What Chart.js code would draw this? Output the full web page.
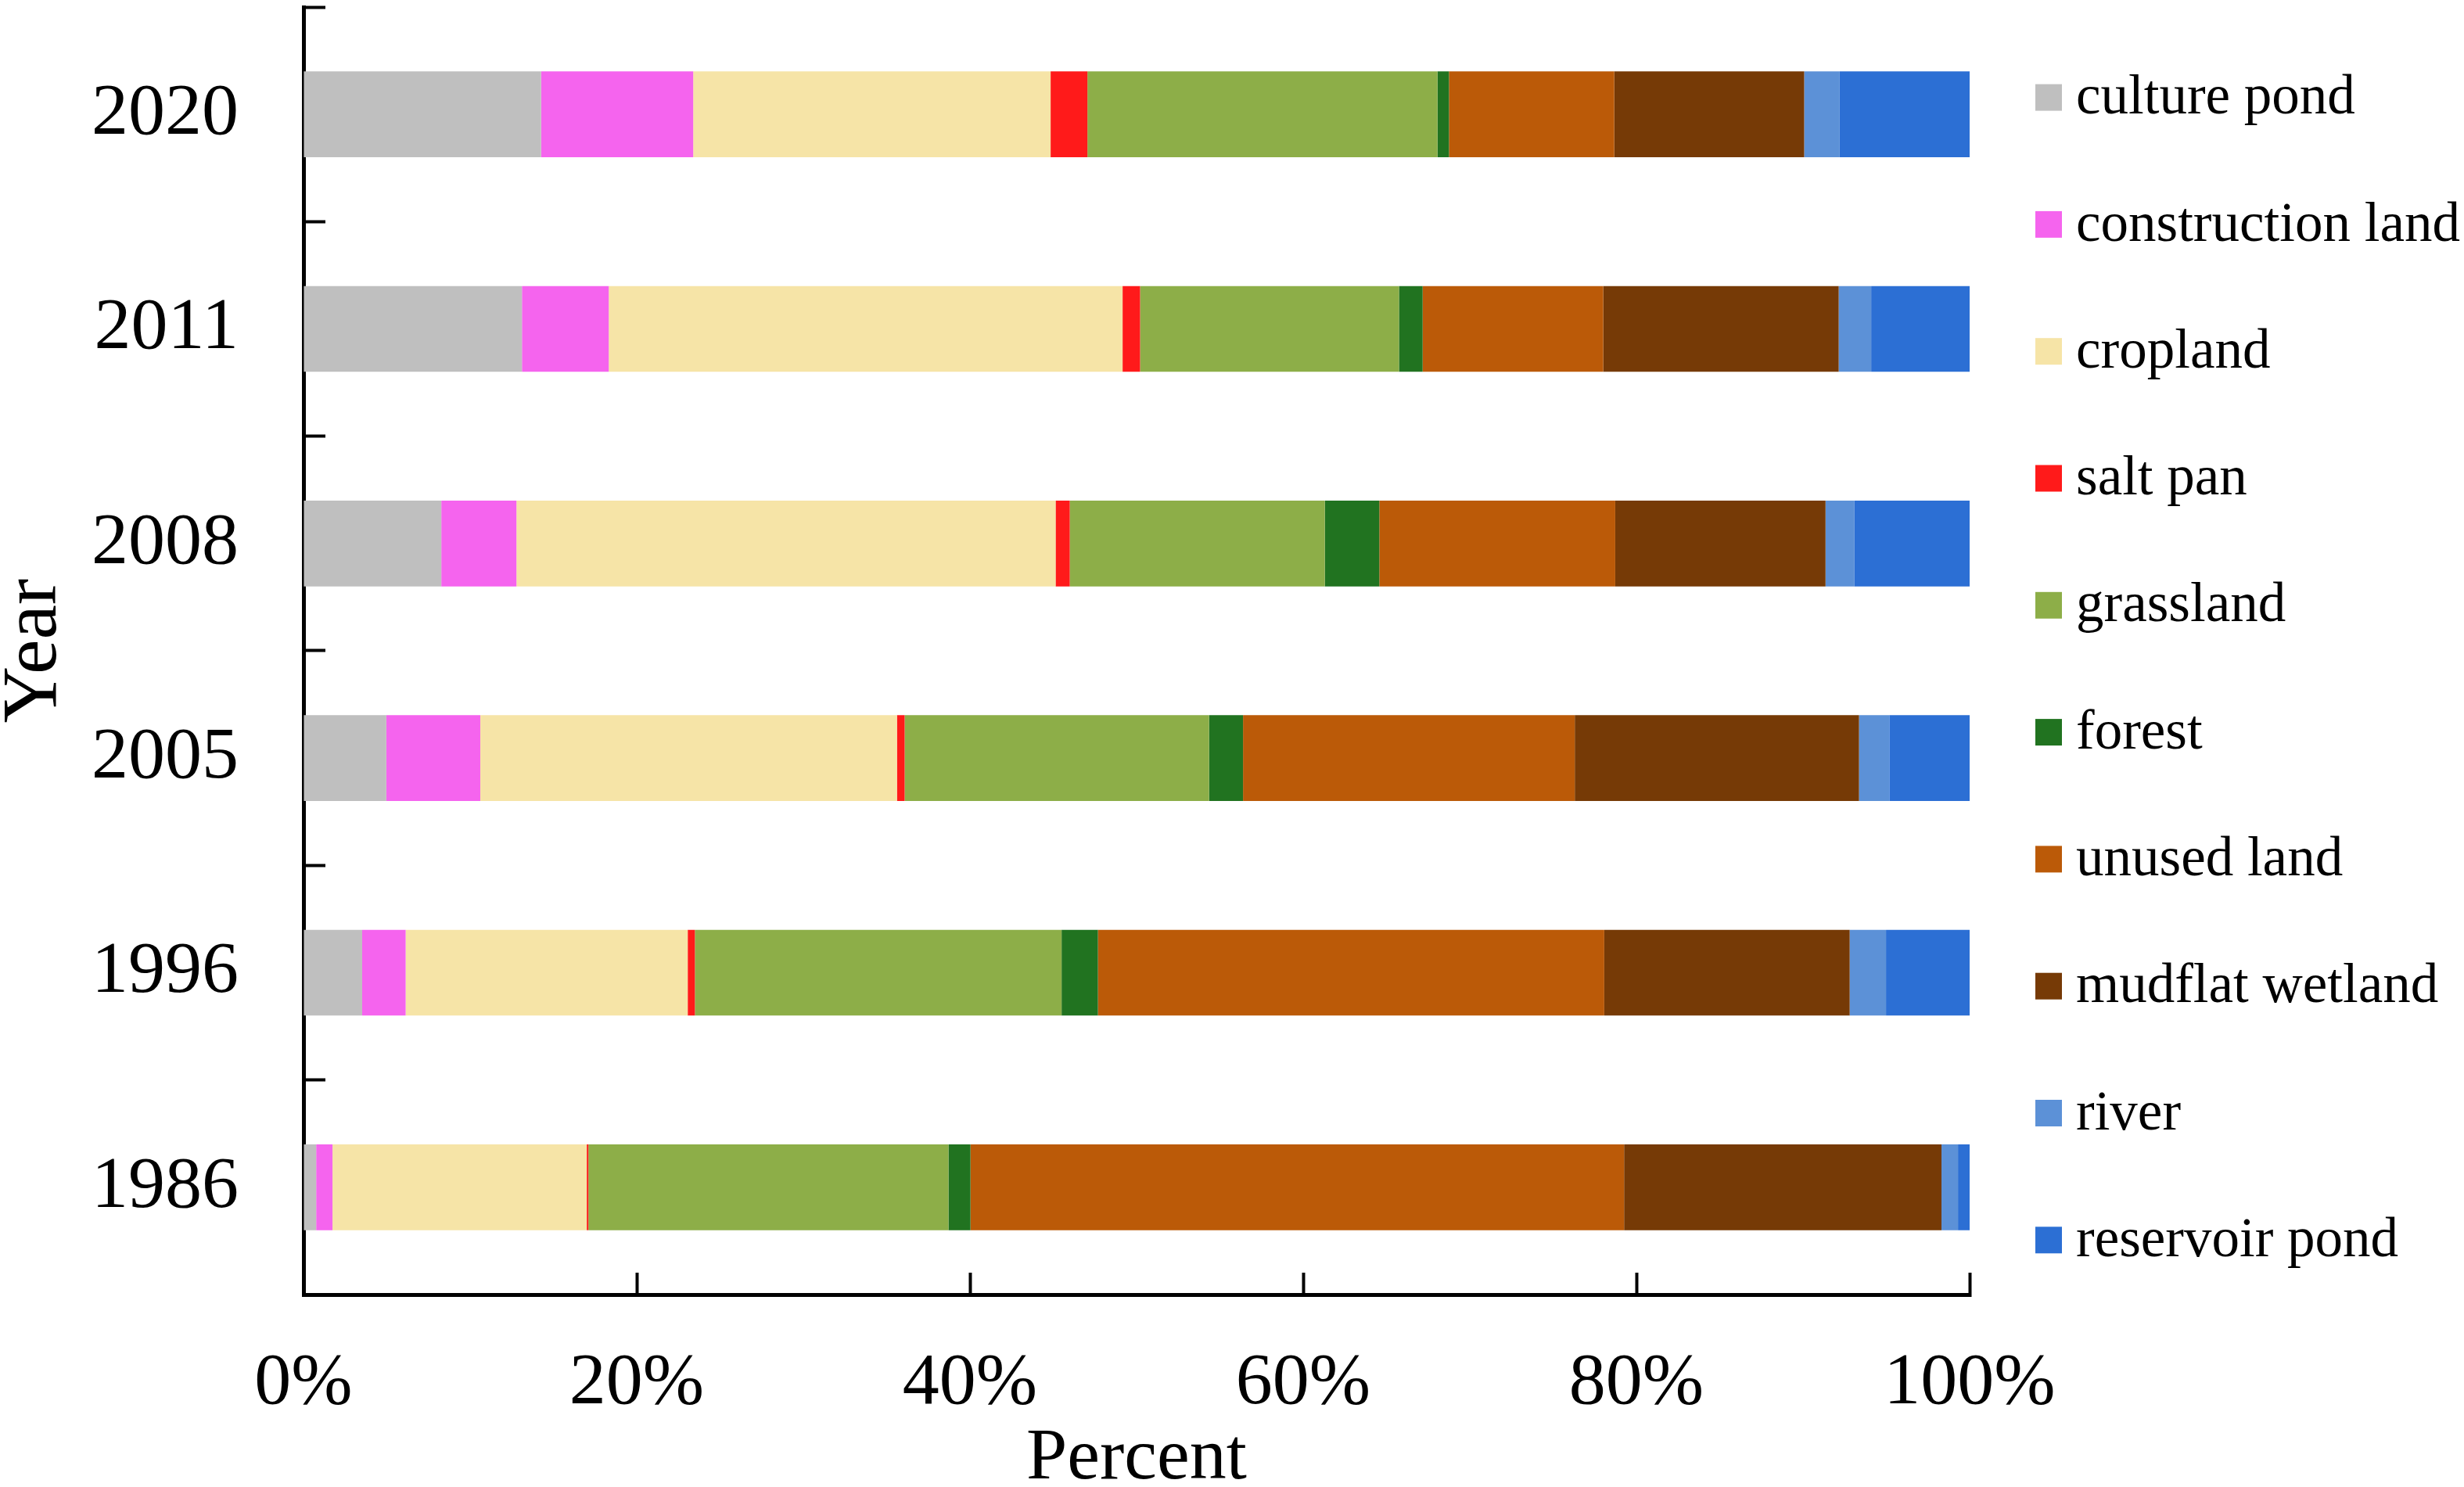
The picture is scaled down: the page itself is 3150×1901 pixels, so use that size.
<!DOCTYPE html>
<html>
<head>
<meta charset="utf-8">
<script src="https://cdn.jsdelivr.net/npm/chart.js@4.4.1/dist/chart.umd.min.js"></script>
<style>
  html, body { margin: 0; padding: 0; background: #ffffff; }
  #wrap { width: 3150px; height: 1901px; }
</style>
</head>
<body>
<div id="wrap"><canvas id="c" width="3150" height="1901"></canvas></div>
<script>
// ---- data (percent of area per land type) ----
const years = ['1986', '1996', '2005', '2008', '2011', '2020'];
const landTypes = ['culture pond', 'construction land', 'cropland', 'salt pan', 'grassland',
                   'forest', 'unused land', 'mudflat wetland', 'river', 'reservoir pond'];
const culturePond      = [0.76, 3.52, 4.97, 8.27, 13.11, 14.26];
const constructionLand = [0.98, 2.61, 5.64, 4.51, 5.21, 9.13];
const cropland         = [15.26, 16.93, 25.01, 32.36, 30.84, 21.45];
const saltPan          = [0.10, 0.43, 0.46, 0.85, 1.05, 2.21];
const grassland        = [21.61, 22.01, 18.27, 15.31, 15.54, 21.01];
const forest           = [1.32, 2.18, 2.04, 3.27, 1.42, 0.69];
const unusedLand       = [39.23, 30.39, 19.91, 14.16, 10.84, 9.92];
const mudflatWetland   = [19.05, 14.73, 17.06, 12.62, 14.13, 11.40];
const river            = [0.99, 2.18, 1.82, 1.72, 1.95, 2.13];
const reservoirPond    = [0.70, 5.02, 4.82, 6.93, 5.91, 7.80];
const xTicks = [0, 20, 40, 60, 80, 100];

const seriesValues = [culturePond, constructionLand, cropland, saltPan, grassland,
                      forest, unusedLand, mudflatWetland, river, reservoirPond];
const seriesColors = ['#BFBFBF', '#F564EE', '#F6E4A7', '#FF1A1A', '#8DAE48',
                      '#217320', '#BB5A08', '#763A06', '#5C91D7', '#2C6FD4'];

const SERIF = '"Liberation Serif", "Times New Roman", serif';

// custom legend drawn on the right
const rightLegend = {
  id: 'rightLegend',
  afterDraw(chart) {
    const ctx = chart.ctx;
    ctx.save();
    ctx.font = '71px ' + SERIF;
    ctx.textBaseline = 'middle';
    ctx.textAlign = 'left';
    chart.data.datasets.forEach((ds, i) => {
      const cy = 124.6 + i * 162.3;
      ctx.fillStyle = ds.backgroundColor;
      ctx.fillRect(2602, cy - 17, 34, 34);
      ctx.fillStyle = '#000000';
      ctx.fillText(ds.label, 2654, cy + 2);
    });
    ctx.restore();
  }
};

const datasets = landTypes.map((name, i) => ({
  label: name,
  data: seriesValues[i],
  backgroundColor: seriesColors[i],
  borderWidth: 0,
  barPercentage: 0.4,
  categoryPercentage: 1.0
}));

new Chart(document.getElementById('c'), {
  type: 'bar',
  data: { labels: years, datasets: datasets },
  plugins: [rightLegend],
  options: {
    indexAxis: 'y',
    responsive: false,
    animation: false,
    devicePixelRatio: 1,
    layout: { padding: { top: 9, right: 632, bottom: 0, left: 0 } },
    plugins: {
      legend: { display: false },
      tooltip: { enabled: false },
      title: { display: false }
    },
    scales: {
      x: {
        stacked: true,
        min: 0,
        max: 100,
        afterBuildTicks: (scale) => { scale.ticks = xTicks.map(v => ({ value: v })); },
        afterFit: (scale) => {
          scale.height = 246;
          scale.paddingLeft = 0; scale.paddingRight = 0;
          scale.paddingTop = 0; scale.paddingBottom = 0;
        },
        border: { display: true, color: '#000000', width: 5 },
        grid: {
          display: true,
          drawOnChartArea: false,
          drawTicks: true,
          tickLength: -28,
          tickColor: '#000000',
          tickWidth: 4
        },
        ticks: {
          padding: 86,
          color: '#000000',
          font: { family: SERIF, size: 94, lineHeight: 1.2 },
          callback: (v) => v + '%',
          maxRotation: 0,
          autoSkip: false
        },
        title: {
          display: true,
          text: 'Percent',
          color: '#000000',
          font: { family: SERIF, size: 94, lineHeight: 0.76 },
          padding: { top: 0, bottom: 0 }
        }
      },
      y: {
        stacked: true,
        reverse: true,
        afterFit: (scale) => {
          scale.width = 388;
          scale.paddingTop = 0; scale.paddingBottom = 0;
          scale.paddingLeft = 0; scale.paddingRight = 0;
        },
        border: { display: true, color: '#000000', width: 5 },
        grid: {
          display: true,
          offset: true,
          drawOnChartArea: false,
          drawTicks: true,
          tickLength: -28,
          tickColor: '#000000',
          tickWidth: 4
        },
        ticks: {
          padding: 111,
          color: '#000000',
          font: { family: SERIF, size: 94 }
        },
        title: {
          display: true,
          text: 'Year',
          color: '#000000',
          font: { family: SERIF, size: 100, lineHeight: 0.9 },
          padding: { top: 0, bottom: 0 }
        }
      }
    }
  }
});
</script>
</body>
</html>
